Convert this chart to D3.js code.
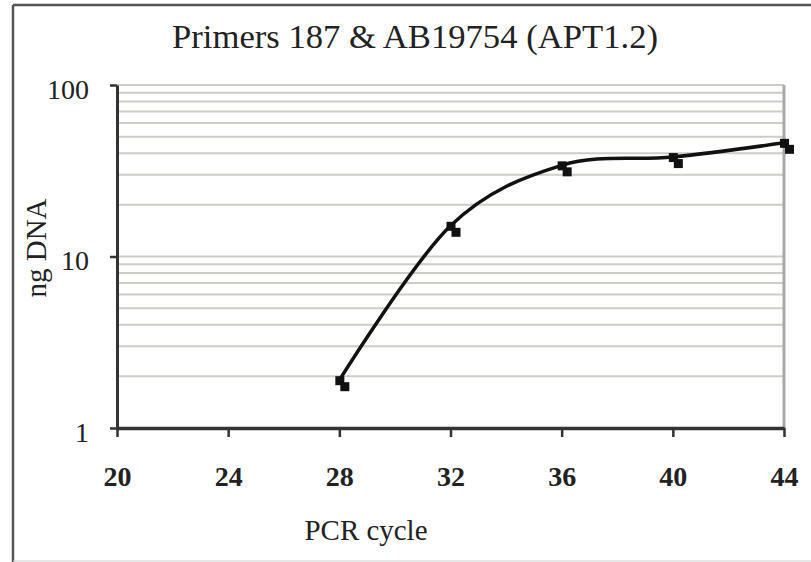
<!DOCTYPE html>
<html>
<head>
<meta charset="utf-8">
<script src="https://cdn.jsdelivr.net/npm/d3@7"></script>
<style>
  body { margin: 0; background: #fff; }
  svg text { font-family: "Liberation Serif", "LiberationSerif", "Tinos", "DejaVu Serif", "Times New Roman", serif; fill: #222; }
</style>
</head>
<body>
<div id="chart"></div>
<script>
// data
const cycles = [28, 32, 36, 40, 44];
const ngDNA = [1.9, 15.1, 34, 38, 46];
const xTicks = [20, 24, 28, 32, 36, 40, 44];
const yTicks = [1, 10, 100];

const W = 811, H = 562;
const serif = '"Liberation Serif", "LiberationSerif", "Tinos", "DejaVu Serif", "Times New Roman", serif';

const svg = d3.select("#chart").append("svg")
  .attr("width", W)
  .attr("height", H);

// outer frame (top/left dark, bottom light)
svg.append("line").attr("x1", 13).attr("x2", W).attr("y1", 5).attr("y2", 5)
  .attr("stroke", "#555").attr("stroke-width", 2.5);
svg.append("line").attr("x1", 13).attr("x2", 13).attr("y1", 5).attr("y2", H)
  .attr("stroke", "#555").attr("stroke-width", 2.5);
svg.append("line").attr("x1", 13).attr("x2", W).attr("y1", 561).attr("y2", 561)
  .attr("stroke", "#d0d0d0").attr("stroke-width", 1);

var x = d3.scaleLinear()
  .domain([20, 44])
  .range([117, 784]);

var y = d3.scaleLog()
  .domain([1, 100])
  .range([428, 85]);

// horizontal gridlines at every log step
svg.append("g")
  .selectAll("line")
  .data(y.ticks().filter(d => d > 1))
  .enter()
  .append("line")
  .attr("x1", x(20))
  .attr("x2", x(44))
  .attr("y1", d => y(d))
  .attr("y2", d => y(d))
  .attr("stroke", "#cdcdc6")
  .attr("stroke-width", 2);

// right border of plot area
svg.append("line")
  .attr("x1", x(44)).attr("x2", x(44))
  .attr("y1", y(100)).attr("y2", y(1))
  .attr("stroke", "#a8a8a8")
  .attr("stroke-width", 3);

// y axis
var gy = svg.append("g")
  .attr("transform", `translate(${x(20)},0)`)
  .call(d3.axisLeft(y).tickValues(yTicks).tickFormat(d3.format("d"))
    .tickSize(7).tickSizeOuter(0).tickPadding(21));
gy.attr("font-family", serif);
gy.select(".domain").attr("stroke", "#333").attr("stroke-width", 3);
gy.selectAll(".tick line").attr("stroke", "#333").attr("stroke-width", 2.5);
gy.selectAll(".tick text")
  .attr("font-size", 28)
  .attr("dy", "0.48em")
  .attr("fill", "#333")
  .style("font-family", serif);

// x axis
var gx = svg.append("g")
  .attr("transform", `translate(0,${y(1)})`)
  .call(d3.axisBottom(x).tickValues(xTicks)
    .tickSize(9).tickSizeOuter(0).tickPadding(29));
gx.attr("font-family", serif);
gx.select(".domain").attr("stroke", "#333").attr("stroke-width", 3.5);
gx.selectAll(".tick line").attr("stroke", "#333").attr("stroke-width", 2.5);
gx.selectAll(".tick text")
  .attr("font-size", 28)
  .attr("font-weight", "bold")
  .style("font-family", serif)
  .attr("fill", "#333");

// smoothed line
var pts = cycles.map((c, i) => [x(c), y(ngDNA[i])]);
svg.append("path")
  .attr("d", d3.line().curve(d3.curveCardinal.tension(0))(pts))
  .attr("fill", "none")
  .attr("stroke", "#111")
  .attr("stroke-width", 3.5);

// square markers (doubled, as in the scan)
var marks = svg.selectAll(".mark")
  .data(cycles)
  .enter()
  .append("g")
  .attr("class", "mark");

marks.append("rect")
  .attr("x", (d, i) => x(d) - 4)
  .attr("y", (d, i) => y(ngDNA[i]) - 4)
  .attr("width", 9).attr("height", 9)
  .attr("fill", "#111");
marks.append("rect")
  .attr("x", (d, i) => x(d) + 1)
  .attr("y", (d, i) => y(ngDNA[i]) + 2)
  .attr("width", 9).attr("height", 9)
  .attr("fill", "#111");

// title and axis labels
svg.append("text")
  .attr("x", 415).attr("y", 48)
  .attr("text-anchor", "middle")
  .attr("font-size", 34)
  .attr("textLength", 486)
  .attr("lengthAdjust", "spacingAndGlyphs")
  .style("font-family", serif)
  .text("Primers 187 & AB19754 (APT1.2)");

svg.append("text")
  .attr("transform", "translate(46,248) rotate(-90)")
  .attr("text-anchor", "middle")
  .attr("font-size", 29)
  .attr("textLength", 99)
  .attr("lengthAdjust", "spacingAndGlyphs")
  .style("font-family", serif)
  .text("ng DNA");

svg.append("text")
  .attr("x", 366).attr("y", 540)
  .attr("text-anchor", "middle")
  .attr("font-size", 29)
  .attr("textLength", 123)
  .attr("lengthAdjust", "spacingAndGlyphs")
  .style("font-family", serif)
  .text("PCR cycle");
</script>
</body>
</html>
